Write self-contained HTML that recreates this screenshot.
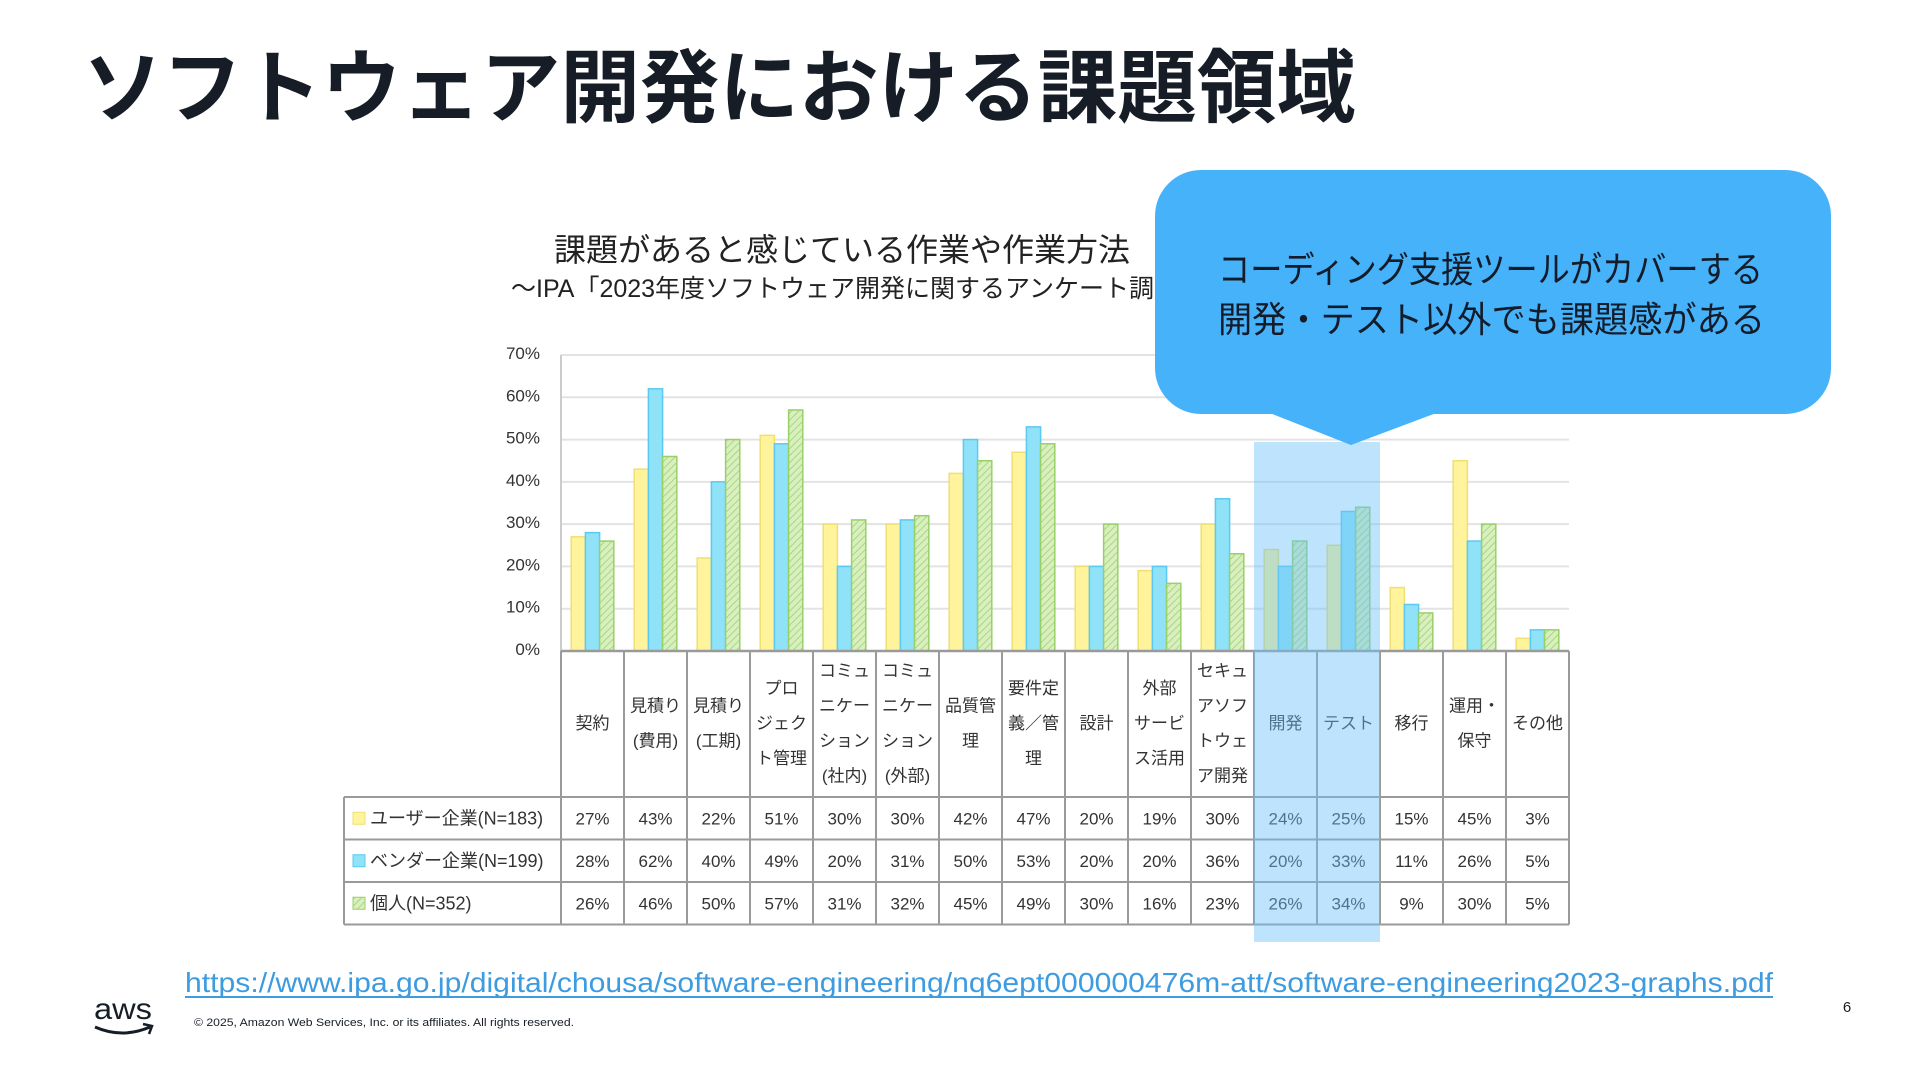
<!DOCTYPE html>
<html><head><meta charset="utf-8">
<style>
html,body{margin:0;padding:0;background:#fff;}
svg{display:block;}
text{font-family:"Liberation Sans","Noto Sans CJK JP",sans-serif;}
</style></head>
<body>
<svg id="slide" width="1920" height="1080" viewBox="0 0 1920 1080" xmlns="http://www.w3.org/2000/svg">
<defs>
<pattern id="hatch" width="5" height="5" patternUnits="userSpaceOnUse" patternTransform="rotate(45)">
<rect width="5" height="5" fill="#d9efc0"/>
<line x1="0" y1="0" x2="0" y2="5" stroke="#a8d880" stroke-width="2"/>
</pattern>
</defs>
<text x="83" y="116" font-size="80" font-weight="bold" fill="#161d26" textLength="1273" lengthAdjust="spacingAndGlyphs">ソフトウェア開発における課題領域</text>
<text x="554" y="261" font-size="32" fill="#222">課題があると感じている作業や作業方法 （複数回答）</text>
<text x="511" y="297" font-size="25" fill="#222">～IPA「2023年度ソフトウェア開発に関するアンケート調査」</text>
<g id="chart"></g>
<g id="table"></g>
<rect x="1254" y="442" width="126" height="500" fill="#6cc4f8" fill-opacity="0.45"/>
<g>
<rect x="1155" y="170" width="676" height="244" rx="46" fill="#45b2fa"/>
<polygon points="1267,412 1439,412 1351,445" fill="#45b2fa"/>
<text x="1218" y="282" font-size="36" fill="#141c2a" textLength="545" lengthAdjust="spacingAndGlyphs">コーディング支援ツールがカバーする</text>
<text x="1218" y="332" font-size="36" fill="#141c2a" textLength="547" lengthAdjust="spacingAndGlyphs">開発・テスト以外でも課題感がある</text>
</g>
<a>
<text x="185" y="992" font-size="28" fill="#3d9be0" textLength="1588" lengthAdjust="spacingAndGlyphs">https://www.ipa.go.jp/digital/chousa/software-engineering/nq6ept000000476m-att/software-engineering2023-graphs.pdf</text>
</a>
<line x1="185" y1="997" x2="1773" y2="997" stroke="#3d9be0" stroke-width="2"/>
<g>
<text x="94" y="1019" font-size="30" fill="#161d26" textLength="58" lengthAdjust="spacingAndGlyphs">aws</text>
<path d="M95 1027 Q122 1039 150 1027" stroke="#161d26" stroke-width="3" fill="none"/>
<path d="M143 1024 L152 1026 L149 1034" stroke="#161d26" stroke-width="2.5" fill="none"/>
</g>
<text x="194" y="1026" font-size="11" fill="#161d26" textLength="380" lengthAdjust="spacingAndGlyphs">© 2025, Amazon Web Services, Inc. or its affiliates. All rights reserved.</text>
<text x="1847" y="1012" font-size="15" fill="#161d26" text-anchor="middle">6</text>
</svg>
<script>
const categories=[["契約"],["見積り","(費用)"],["見積り","(工期)"],["プロ","ジェク","ト管理"],["コミュ","ニケー","ション","(社内)"],["コミュ","ニケー","ション","(外部)"],["品質管","理"],["要件定","義／管","理"],["設計"],["外部","サービ","ス活用"],["セキュ","アソフ","トウェ","ア開発"],["開発"],["テスト"],["移行"],["運用・","保守"],["その他"]];
const userValues=[27,43,22,51,30,30,42,47,20,19,30,24,25,15,45,3];
const vendorValues=[28,62,40,49,20,31,50,53,20,20,36,20,33,11,26,5];
const personalValues=[26,46,50,57,31,32,45,49,30,16,23,26,34,9,30,5];
const seriesNames=["ユーザー企業(N=183)","ベンダー企業(N=199)","個人(N=352)"];
const yTicks=[0,10,20,30,40,50,60,70];

const NS="http://www.w3.org/2000/svg";
const plotL=561,plotR=1569,y0=651,pxPer=(651-355)/70;
const colW=(plotR-plotL)/categories.length,barW=14.2;
const yScale=v=>y0-v*pxPer;
const xCol=i=>plotL+i*colW;
function mk(tag,attrs,parent){const e=document.createElementNS(NS,tag);for(const k in attrs)e.setAttribute(k,attrs[k]);parent.appendChild(e);return e;}
const chart=document.getElementById('chart');
const table=document.getElementById('table');
yTicks.forEach(t=>{
  const g=mk('line',{x1:plotL,x2:plotR,y1:yScale(t),y2:yScale(t),stroke:'#e3e3e3','stroke-width':2},chart);
  
  
  const l=mk('text',{x:540,y:yScale(t)+4,'font-size':17,fill:'#333','text-anchor':'end'},chart);
  l.textContent=t+'%';
  
  
});
mk('line',{x1:plotL,x2:plotL,y1:355,y2:y0,stroke:'#ccc','stroke-width':2},chart);
const series=[{v:userValues,fill:'#fff39c',stroke:'#efe070'},{v:vendorValues,fill:'#8fe2f8',stroke:'#5ccaf0'},{v:personalValues,fill:'url(#hatch)',stroke:'#98d068'}];
categories.forEach((c,i)=>{
  const cx=xCol(i)+colW/2;
  series.forEach((s,k)=>{
    const v=s.v[i];
    const b=mk('rect',{x:cx-1.5*barW+k*barW,y:yScale(v),width:barW,height:v*pxPer,fill:s.fill,stroke:s.stroke,'stroke-width':1.5},chart);
    
    
  });
});
const tL=344,hTop=y0,hBot=797,rowH=42.5;
const tB=hBot+rowH*3;
const gray='#9a9a9a';
mk('line',{x1:plotL,x2:plotR,y1:y0,y2:y0,stroke:gray,'stroke-width':2.5},table);
for(let r=0;r<=3;r++){mk('line',{x1:tL,x2:plotR,y1:hBot+r*rowH,y2:hBot+r*rowH,stroke:gray,'stroke-width':2},table);}
mk('line',{x1:tL,x2:tL,y1:hBot,y2:tB,stroke:gray,'stroke-width':2},table);
for(let i=0;i<=categories.length;i++){mk('line',{x1:xCol(i),x2:xCol(i),y1:hTop,y2:tB,stroke:gray,'stroke-width':2},table);}
categories.forEach((c,i)=>{
  const cx=xCol(i)+colW/2,lh=35,mid=(hTop+hBot)/2;
  c.forEach((ln,j)=>{
    const t=mk('text',{x:cx,y:mid-(c.length-1)*lh/2+j*lh+5,'font-size':17,fill:'#333','text-anchor':'middle'},table);
    t.textContent=ln;
    
    
  });
});
const legendFills=['#fff39c','#8fe2f8','url(#hatch)'],legendStrokes=['#efe070','#5ccaf0','#98d068'];
[userValues,vendorValues,personalValues].forEach((vals,r)=>{
  const cy=hBot+r*rowH+rowH/2;
  const sw=mk('rect',{x:353,y:cy-6,width:12,height:12,fill:legendFills[r],stroke:legendStrokes[r]},table);
  
  
  const n=mk('text',{x:370,y:cy+6,'font-size':18,fill:'#333'},table);
  n.textContent=seriesNames[r];
  
  
  vals.forEach((v,i)=>{
    const t=mk('text',{x:xCol(i)+colW/2,y:cy+6,'font-size':17,fill:'#333','text-anchor':'middle'},table);
    t.textContent=v+'%';
    
    
  });
});
</script>
</body></html>
